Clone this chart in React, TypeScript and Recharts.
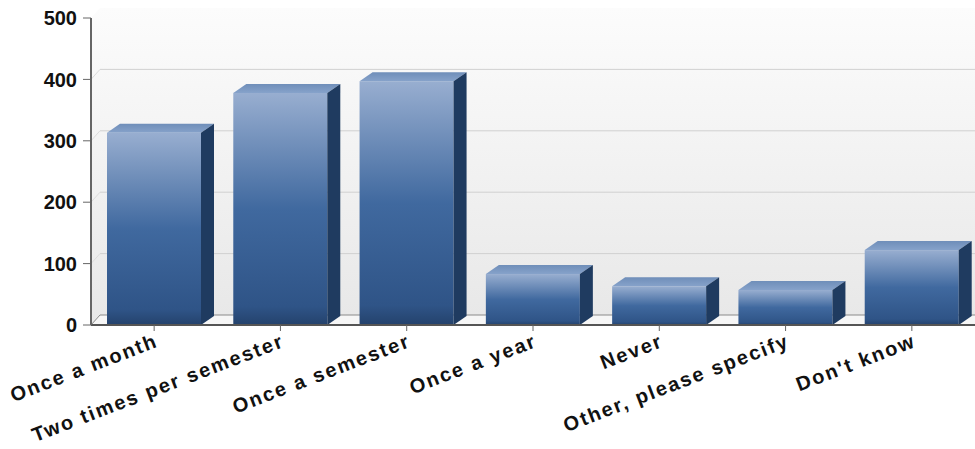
import {
  Bar,
  BarChart,
  CartesianGrid,
  ReferenceArea,
  ReferenceLine,
  XAxis,
  YAxis,
} from "recharts";

const categories = [
  "Once a month",
  "Two times per semester",
  "Once a semester",
  "Once a year",
  "Never",
  "Other, please specify",
  "Don't know",
];
const counts = [313, 378, 397, 83, 63, 57, 122];
const yTicks = [0, 100, 200, 300, 400, 500];
const gridValues = [100, 200, 300, 400];

const data = categories.map((name, i) => ({ name, value: counts[i] }));

// fake 3d depth, same look as the flash chart
const DEPTH_X = 13;
const DEPTH_Y = 9;
const WALL_X = 9;
const WALL_Y = 10;
const FONT = "'Liberation Sans', Arial, sans-serif";

const Bar3D = (props: any) => {
  const { x, y, width, height } = props;
  const r = x + width;
  const b = y + height;
  return (
    <g>
      <rect x={x} y={y} width={width} height={height} fill="url(#barFront)" />
      <polygon
        points={`${x},${y} ${x + DEPTH_X},${y - DEPTH_Y} ${r + DEPTH_X},${y - DEPTH_Y} ${r},${y}`}
        fill="url(#barTop)"
      />
      <polygon
        points={`${r},${y} ${r + DEPTH_X},${y - DEPTH_Y} ${r + DEPTH_X},${b - DEPTH_Y} ${r},${b}`}
        fill="#1f3b60"
      />
    </g>
  );
};

// side wall and floor, the back wall is the grid's own fill
const SideAndFloor = (props: any) => {
  const { x, y, width, height } = props;
  const r = x + width;
  const b = y + height;
  return (
    <g>
      <polygon
        points={`${x},${y} ${x + WALL_X},${y - WALL_Y} ${x + WALL_X},${b - WALL_Y} ${x},${b}`}
        fill="url(#wall)"
      />
      <polygon
        points={`${x},${b} ${x + WALL_X},${b - WALL_Y} ${r},${b - WALL_Y} ${r},${b}`}
        fill="#f6f6f6"
      />
      <line x1={x + WALL_X} y1={b - WALL_Y} x2={r} y2={b - WALL_Y} stroke="#8a8a8a" />
    </g>
  );
};

const GridLine = (props: any) => {
  const { x1, x2, y1 } = props;
  return <line x1={x1} y1={y1 - WALL_Y} x2={x2} y2={y1 - WALL_Y} stroke="#d0d0d0" />;
};

const WallTick = (props: any) => {
  const { x1, y1 } = props;
  return (
    <line
      x1={x1}
      y1={y1}
      x2={x1 + WALL_X}
      y2={y1 - WALL_Y}
      stroke={props.dark ? "#8a8a8a" : "#dcdcdc"}
    />
  );
};

export default function App() {
  return (
    <div style={{ position: "absolute", left: 0, top: 0, width: 975, height: 449, background: "#fff" }}>
      <BarChart
        width={975}
        height={449}
        data={data}
        barSize={94}
        margin={{ top: 18, right: 0, bottom: 0, left: 0 }}
      >
        <defs>
          <linearGradient id="wall" x1="0" y1="0" x2="0" y2="1">
            <stop offset="0%" stopColor="#fcfcfc" />
            <stop offset="100%" stopColor="#e8e8e8" />
          </linearGradient>
          <linearGradient id="barFront" x1="0" y1="0" x2="0" y2="1">
            <stop offset="0%" stopColor="#98aed0" />
            <stop offset="50%" stopColor="#40699f" />
            <stop offset="92%" stopColor="#2f5487" />
            <stop offset="100%" stopColor="#24426c" />
          </linearGradient>
          <linearGradient id="barTop" x1="0" y1="0" x2="0" y2="1">
            <stop offset="0%" stopColor="#6f8eb9" />
            <stop offset="100%" stopColor="#86a2ca" />
          </linearGradient>
        </defs>
        <CartesianGrid
          x={100}
          y={8}
          width={875}
          height={307}
          fill="url(#wall)"
          vertical={false}
          horizontal={GridLine}
          horizontalValues={gridValues}
        />
        <ReferenceArea y1={0} y2={500} shape={SideAndFloor} ifOverflow="visible" />
        {gridValues.map((v) => (
          <ReferenceLine key={v} y={v} shape={WallTick} ifOverflow="visible" />
        ))}
        <ReferenceLine y={0} shape={<WallTick dark />} ifOverflow="visible" />
        <XAxis
          dataKey="name"
          height={124}
          interval={0}
          angle={-21}
          textAnchor="end"
          tick={{ fill: "#111", fontSize: 20, fontWeight: 700, fontFamily: FONT, letterSpacing: 1.9 }}
          tickLine={{ stroke: "#666" }}
          tickSize={6}
          axisLine={{ stroke: "#555", strokeWidth: 2 }}
        />
        <YAxis
          width={91}
          domain={[0, 500]}
          ticks={yTicks}
          tick={{ fill: "#111", fontSize: 20, fontWeight: 700, fontFamily: FONT }}
          tickLine={{ stroke: "#666" }}
          tickSize={8}
          tickMargin={6}
          axisLine={{ stroke: "#666", strokeWidth: 2 }}
        />
        <Bar dataKey="value" shape={Bar3D} isAnimationActive={false} />
      </BarChart>
    </div>
  );
}
